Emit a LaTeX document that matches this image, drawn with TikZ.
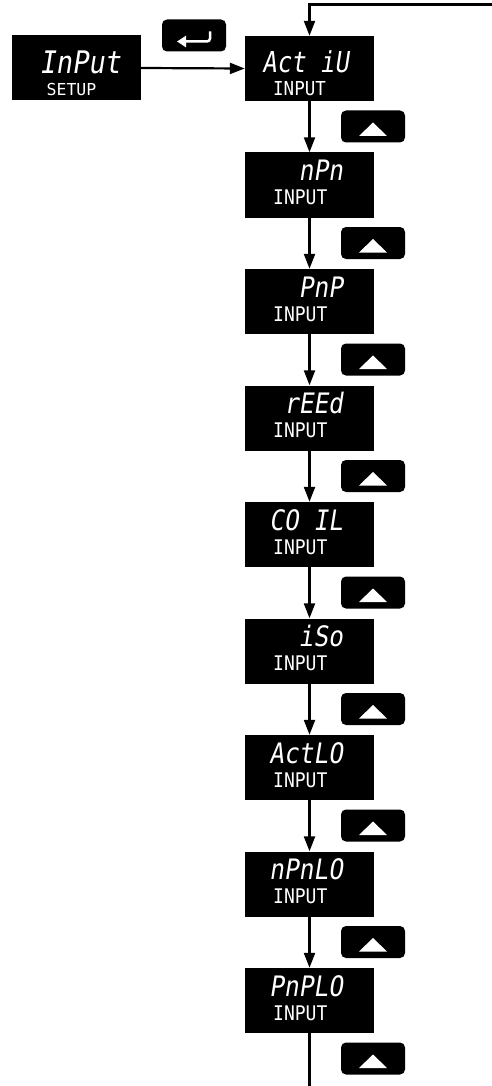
\documentclass[tikz,border=0pt]{standalone}
\usepackage{fontspec}
\usetikzlibrary{arrows.meta}
\newfontfamily\segfont[FakeSlant=0.18]{DejaVu Sans Mono}
\newfontfamily\lblfont{DejaVu Sans Mono}
\begin{document}
\begin{tikzpicture}[x=1pt,y=-1pt,
  dispbox/.style={fill=black, draw=none, minimum width=129pt, minimum height=65pt, inner sep=0pt},
  btn/.style={fill=black, draw=none, rounded corners=5pt, minimum width=64pt, minimum height=32pt, inner sep=0pt},
  segtxt/.style={text=white, inner sep=0pt, text depth=0pt, font=\segfont\fontsize{24.5}{24.5}\selectfont},
  lbltxt/.style={text=white, inner sep=0pt, text depth=0pt, font=\lblfont\fontsize{18}{18}\selectfont},
  conn/.style={line width=2.2pt, -{Triangle[length=15pt,width=11pt]}},
  bare/.style={line width=2.2pt}]
\useasboundingbox (0,0) rectangle (492,1086);
% first row
\node[dispbox] (in) at (76,68) {};
\node[segtxt, anchor=base, font=\segfont\fontsize{27}{27}\selectfont] (intxt) at (80,74) {\scalebox{1}[1.15]{InPut}};
\node[lbltxt, anchor=base, font=\lblfont\fontsize{16.5}{16.5}\selectfont] (inlbl) at (71.5,96) {SETUP};
\node[btn] (ent) at (194,35.5) {};
\draw[white, line width=2.5pt, rounded corners=3pt, -{Triangle[length=9pt,width=11pt]}]
  ([shift={(16,-4)}]ent.center) -- ([shift={(16,6)}]ent.center) -- ([shift={(-17,6)}]ent.center);
% display boxes
\node[dispbox] (b0) at (309.5,68.5) {};
\node[segtxt, anchor=base east, font=\segfont\fontsize{24}{24}\selectfont] (t0) at (349,73) {\scalebox{1}[1.2]{Act iU}};
\node[lbltxt, anchor=base west, font=\lblfont\fontsize{17.5}{17.5}\selectfont] (l0) at (273,96) {\scalebox{1}[1.1]{INPUT}};
\foreach \txt [count=\i from 1] in {nPn,PnP,rEEd,CO IL,iSo,ActLO,nPnLO,PnPLO}{
  \node[dispbox] (b\i) at (309.5,{68.5+116.5*\i}) {};
  \node[segtxt, anchor=base east] (t\i) at (343,{36+116.5*\i+28}) {\scalebox{1}[1.15]{\txt}};
  \node[lbltxt, anchor=base west] (l\i) at (273,{36+116.5*\i+52}) {\scalebox{1}[1.12]{INPUT}};
}
% up buttons
\foreach \i in {0,...,8}{
  \node[btn] (u\i) at (373,{126.5+116.5*\i}) {};
  \fill[white] ([shift={(-14,9.5)}]u\i.center) -- ([shift={(14,9.5)}]u\i.center) -- ([shift={(0,-4)}]u\i.center) -- cycle;
}
% connectors
\draw[conn] (in.east) -- (b0.west);
\foreach \i [evaluate=\i as \j using int(\i+1)] in {0,...,7}{
  \draw[conn] (b\i.south) -- (b\j.north);
}
\coordinate (bottom) at (309.5,1086);
\draw[bare] (b8.south) -- (bottom);
\coordinate (topright) at (492,4.5);
\coordinate (topleft) at (309.5,4.5);
\draw[conn] (topright) -- (topleft) -- (b0.north);
\end{tikzpicture}
\end{document}
